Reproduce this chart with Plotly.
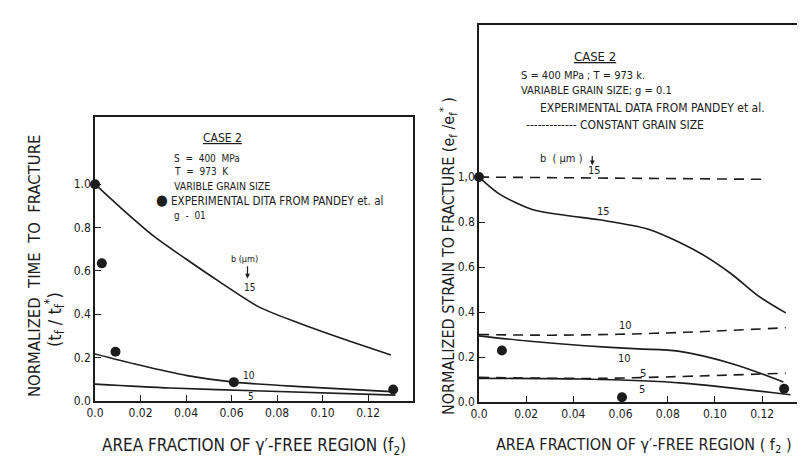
import plotly.graph_objects as go

# ---------------- data (left panel: time to fracture) ----------------
l15_x = [0, 0.011, 0.0255, 0.040, 0.054, 0.072, 0.090, 0.112, 0.130]
l15_y = [1.0, 0.894, 0.763, 0.655, 0.555, 0.434, 0.358, 0.276, 0.212]
l10_x = [0, 0.0185, 0.0405, 0.061, 0.092, 0.132]
l10_y = [0.217, 0.168, 0.117, 0.087, 0.065, 0.042]
l5_x = [0, 0.033, 0.070, 0.132]
l5_y = [0.078, 0.060, 0.047, 0.027]
lexp_x = [0, 0.003, 0.009, 0.061, 0.131]
lexp_y = [1.0, 0.635, 0.227, 0.087, 0.053]

# ---------------- data (right panel: strain to fracture) ----------------
r15s_x = [0, 0.0089, 0.0229, 0.037, 0.051, 0.0721, 0.093, 0.107, 0.118, 0.130]
r15s_y = [1.0, 0.923, 0.855, 0.829, 0.810, 0.767, 0.666, 0.569, 0.474, 0.396]
r15d_x = [0, 0.1205]
r15d_y = [1.0, 0.99]
r10s_x = [0, 0.0205, 0.0448, 0.0675, 0.0844, 0.108, 0.129]
r10s_y = [0.294, 0.271, 0.250, 0.236, 0.226, 0.168, 0.089]
r10d_x = [0, 0.031, 0.059, 0.0875, 0.130]
r10d_y = [0.30, 0.297, 0.301, 0.31, 0.330]
r5s_x = [0, 0.044, 0.0864, 0.132]
r5s_y = [0.105, 0.102, 0.084, 0.032]
r5d_x = [0, 0.051, 0.130]
r5d_y = [0.110, 0.105, 0.128]
rexp_x = [0, 0.0097, 0.0606, 0.1293]
rexp_y = [1.0, 0.229, 0.021, 0.059]

x_tickvals = [0, 0.02, 0.04, 0.06, 0.08, 0.10, 0.12]
x_ticktext = ["0.0", "0.02", "0.04", "0.06", "0.08", "0.10", "0.12"]
y_tickvals = [0, 0.2, 0.4, 0.6, 0.8, 1.0]
yl_ticktext = ["0.0", "0.2", "0.4", "0.6", "0.8", "1.0"]
yr_ticktext = ["0.0", "0.2", "0.4", "0.6", "0.8", "1,0"]

INK = "#1c1c1c"
FONT = "Liberation Sans Narrow, DejaVu Sans Condensed, Arial Narrow, Liberation Sans, sans-serif"
W, H = 805, 456

fig = go.Figure()

def curve(x, y, xa, ya, dash="solid"):
    fig.add_trace(go.Scatter(x=x, y=y, xaxis=xa, yaxis=ya, mode="lines",
                             line=dict(color=INK, width=1.6, shape="spline",
                                       smoothing=0.8, dash=dash),
                             cliponaxis=False, showlegend=False, hoverinfo="skip"))

def points(x, y, xa, ya):
    fig.add_trace(go.Scatter(x=x, y=y, xaxis=xa, yaxis=ya, mode="markers",
                             marker=dict(color=INK, size=10), cliponaxis=False,
                             showlegend=False, hoverinfo="skip"))

DASH = "10px,7px"
curve(l15_x, l15_y, "x", "y")
curve(l10_x, l10_y, "x", "y")
curve(l5_x, l5_y, "x", "y")
points(lexp_x, lexp_y, "x", "y")

curve(r15s_x, r15s_y, "x2", "y2")
curve(r15d_x, r15d_y, "x2", "y2", DASH)
curve(r10s_x, r10s_y, "x2", "y2")
curve(r10d_x, r10d_y, "x2", "y2", DASH)
curve(r5s_x, r5s_y, "x2", "y2")
curve(r5d_x, r5d_y, "x2", "y2", DASH)
points(rexp_x, rexp_y, "x2", "y2")

axis_common = dict(showline=True, mirror=True, linecolor=INK, linewidth=1.6,
                   showgrid=False, zeroline=False, ticks="inside", ticklen=6,
                   tickwidth=1.4, tickcolor=INK, automargin=False,
                   tickfont=dict(family=FONT, size=12, color=INK))

fig.update_layout(
    template="none",
    width=W, height=H, margin=dict(l=0, r=0, t=0, b=0, autoexpand=False),
    paper_bgcolor="white", plot_bgcolor="white", showlegend=False,
    xaxis=dict(domain=[87 / W, 405 / W], range=[0, 0.1397], anchor="y",
               tickvals=x_tickvals, ticktext=x_ticktext, **axis_common),
    yaxis=dict(domain=[1 - 393 / H, 1 - 109 / H], range=[0, 1.31], anchor="x",
               tickvals=y_tickvals, ticktext=yl_ticktext, **axis_common),
    xaxis2=dict(domain=[471 / W, 799 / W], range=[0, 0.139], anchor="y2",
                tickvals=x_tickvals, ticktext=x_ticktext, **axis_common),
    yaxis2=dict(domain=[1 - 394 / H, 1 - 17 / H], range=[0, 1.676], anchor="x2",
                tickvals=y_tickvals, ticktext=yr_ticktext, **axis_common),
)

def txt(text, x, y, xref, yref, size, xanchor="left", angle=0, yanchor="middle"):
    fig.add_annotation(text=text, x=x, y=y, xref=xref, yref=yref, showarrow=False,
                       xanchor=xanchor, yanchor=yanchor, textangle=angle,
                       font=dict(family=FONT, size=size, color=INK))

def arrow(x, y_tail, y_head, xref, yref):
    fig.add_annotation(x=x, y=y_head, ax=x, ay=y_tail, xref=xref, yref=yref,
                       axref=xref, ayref=yref, text="", showarrow=True,
                       arrowhead=2, arrowsize=0.8, arrowwidth=1.2, arrowcolor=INK)

# ---- left panel texts ----
txt("<u>CASE 2</u>", 0.056, 1.214, "x", "y", 12, "center")
txt("S  =  400  MPa", 0.034, 1.118, "x", "y", 10)
txt("T  =  973  K", 0.034, 1.058, "x", "y", 10)
txt("VARIBLE GRAIN SIZE", 0.034, 0.994, "x", "y", 10.5)
txt("<span style='font-size:15px'>●</span> EXPERIMENTAL DITA FROM PANDEY et. al",
    0.026, 0.925, "x", "y", 11.5)
txt("g  -  01", 0.034, 0.856, "x", "y", 10)
txt("b (μm)", 0.0655, 0.655, "x", "y", 9, "center")
arrow(0.067, 0.628, 0.565, "x", "y")
txt("15", 0.068, 0.524, "x", "y", 10, "center")
txt("10", 0.0675, 0.118, "x", "y", 10, "center")
txt("5", 0.0687, 0.022, "x", "y", 10, "center")

# ---- right panel texts ----
txt("<u>CASE 2</u>", 0.049, 1.537, "x2", "y2", 13, "center")
txt("S = 400 MPa ; T = 973 k.", 0.017, 1.452, "x2", "y2", 11)
txt("VARIABLE GRAIN SIZE; g = 0.1", 0.017, 1.384, "x2", "y2", 11)
txt("EXPERIMENTAL DATA FROM PANDEY et al.", 0.025, 1.305, "x2", "y2", 12)
txt("------------- CONSTANT GRAIN SIZE", 0.019, 1.232, "x2", "y2", 12)
txt("b  ( μm )", 0.025, 1.082, "x2", "y2", 11)
arrow(0.048, 1.10, 1.052, "x2", "y2")
txt("15", 0.049, 1.03, "x2", "y2", 11, "center")
txt("15", 0.0527, 0.845, "x2", "y2", 11, "center")
txt("10", 0.062, 0.34, "x2", "y2", 11, "center")
txt("10", 0.0615, 0.195, "x2", "y2", 11, "center")
txt("5", 0.0694, 0.127, "x2", "y2", 11, "center")
txt("5", 0.069, 0.057, "x2", "y2", 11, "center")

# ---- axis titles ----
txt("NORMALIZED  TIME  TO  FRACTURE", 26 / W, 1 - 258 / H, "paper", "paper", 16.5, "center", -90)
txt("(t<sub>f</sub> / t<sub>f</sub><sup>*</sup>)", 46 / W, 1 - 312 / H, "paper", "paper", 18, "center", -90)
txt("NORMALIZED STRAIN TO FRACTURE (e<sub>f</sub> /e<sub>f</sub><sup>*</sup> )",
    440 / W, 1 - 248 / H, "paper", "paper", 16, "center", -90)
txt("AREA FRACTION OF γ′-FREE REGION (f<sub>2</sub>)", 246 / W, 1 - 438 / H,
    "paper", "paper", 17, "center")
txt("AREA FRACTION OF γ′-FREE REGION ( f<sub>2</sub> )", 636 / W, 1 - 437 / H,
    "paper", "paper", 16, "center")

fig.write_html("out.html")
